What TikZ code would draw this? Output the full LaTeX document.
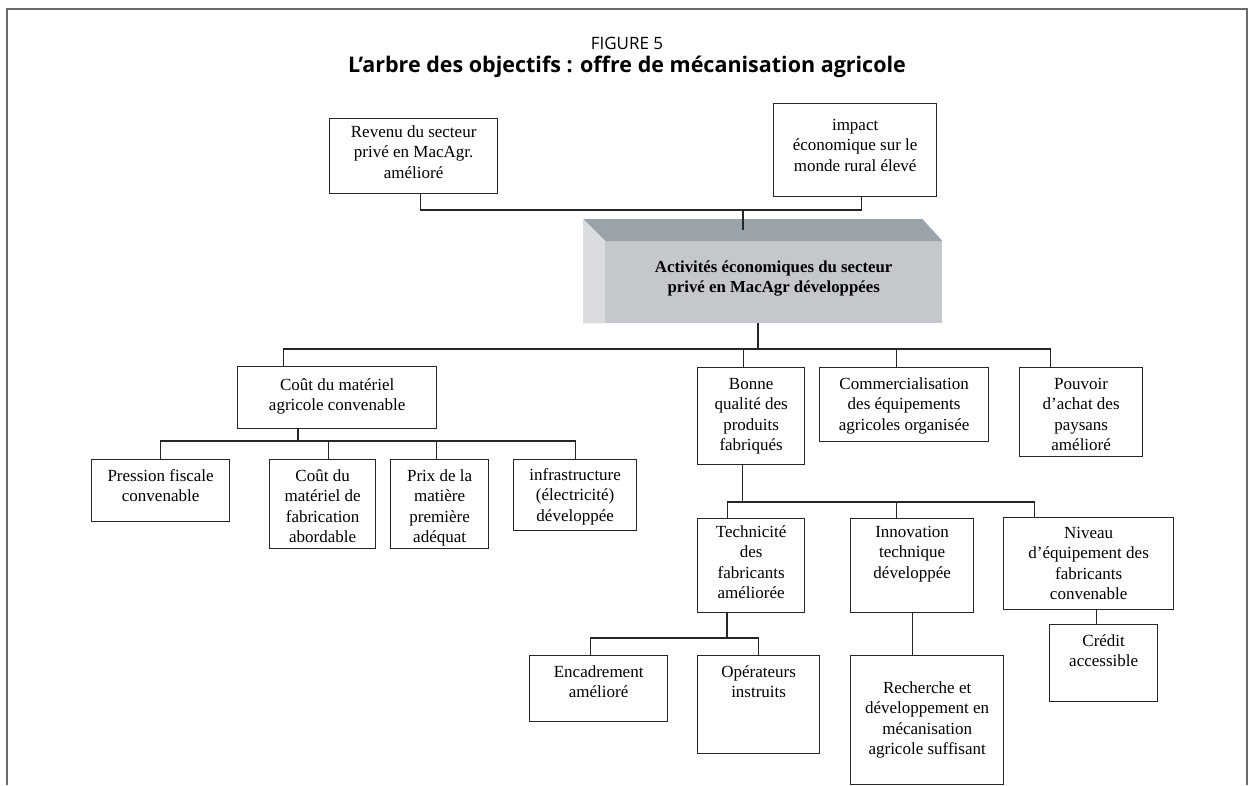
\documentclass[tikz,border=0pt]{standalone}
\usepackage{fontspec}
\setmainfont{Liberation Serif}
\newfontfamily\headfont{Open Sans}
\usetikzlibrary{calc}

\definecolor{framegray}{HTML}{6B6B6B}
\definecolor{inkline}{HTML}{262626}
\definecolor{topface}{HTML}{9BA3AA}
\definecolor{frontface}{HTML}{C4C8CD}
\definecolor{sideface}{HTML}{DADCE0}

% box text: width, height, first baseline from top, lines
\newcommand{\boxtxt}[4]{%
  \begin{minipage}[c][#2pt][t]{#1pt}\centering\rule{0pt}{#3pt}#4\end{minipage}}

\tikzset{
  objbox/.style={draw=inkline, line width=1.3pt, inner sep=0pt, anchor=north west,
    font=\fontsize{17}{20.2}\selectfont},
  link/.style={draw=inkline, line width=1.3pt},
}

\begin{document}
\begin{tikzpicture}[x=1pt, y=-1pt]
\path[use as bounding box] (0,0) rectangle (1255,785);

% frame, open at the bottom
\draw[framegray, line width=2pt] (7,785) -- (7,9) -- (1247,9) -- (1247,785);

% heading
\node[font=\headfont\fontsize{17}{20}\selectfont] (fig) at (627,43) {FIGURE 5};
\node[font=\headfont\bfseries\fontsize{21.5}{24}\selectfont] (ttl) at (627,67)
  {L’arbre des objectifs : offre de mécanisation agricole};

% top level
\node[objbox] (rev) at (329,118) {\boxtxt{168}{75}{19}{Revenu du secteur\\privé en MacAgr.\\amélioré}};
\node[objbox] (imp) at (773,103) {\boxtxt{163}{93}{27}{impact\\économique sur le\\monde rural élevé}};

% central bevelled box
\node[fill=frontface, inner sep=0pt, anchor=north west,
  font=\fontsize{16.8}{20}\selectfont] (cen) at (605,241)
  {\boxtxt{337}{82}{31}{\textbf{Activités économiques du secteur\\privé en MacAgr développées}}};
\fill[topface] (cen.north west) -- ++(-22,-22) -- ($(cen.north east)+(-20,-22)$)
  -- (cen.north east) -- cycle;
\fill[sideface] (cen.north west) -- ++(-22,-22) -- ($(cen.south west)+(-22,0)$)
  -- (cen.south west) -- cycle;

% second level
\node[objbox] (cout) at (237,366) {\boxtxt{199}{62}{24}{Coût du matériel\\agricole convenable}};
\node[objbox] (bon) at (697,367) {\boxtxt{107}{97}{22}{Bonne\\qualité des\\produits\\fabriqués}};
\node[objbox] (com) at (819,367) {\boxtxt{169}{74}{22}{Commercialisation\\des équipements\\agricoles organisée}};
\node[objbox] (pou) at (1019,367) {\boxtxt{123}{89}{22}{Pouvoir\\d’achat des\\paysans\\amélioré}};

% under the cost of equipment
\node[objbox] (pre) at (91,459) {\boxtxt{138}{62}{22}{Pression fiscale\\convenable}};
\node[objbox] (cmf) at (269,459) {\boxtxt{106}{89}{22}{Coût du\\matériel de\\fabrication\\abordable}};
\node[objbox] (pri) at (390,459) {\boxtxt{98}{89}{22}{Prix de la\\matière\\première\\adéquat}};
\node[objbox] (inf) at (513,459) {\boxtxt{123}{71}{21}{infrastructure\\(électricité)\\développée}};

% under product quality
\node[objbox] (tec) at (697,518) {\boxtxt{107}{94}{19}{Technicité\\des\\fabricants\\améliorée}};
\node[objbox] (inn) at (850,518) {\boxtxt{123}{94}{19}{Innovation\\technique\\développée}};
\node[objbox] (niv) at (1003,517) {\boxtxt{170}{92}{21}{Niveau\\d’équipement des\\fabricants\\convenable}};

% lowest level
\node[objbox] (enc) at (529,655) {\boxtxt{138}{66}{22}{Encadrement\\amélioré}};
\node[objbox] (ope) at (697,655) {\boxtxt{122}{98}{22}{Opérateurs\\instruits}};
\node[objbox] (rec) at (850,655) {\boxtxt{153}{129}{38}{Recherche et\\développement en\\mécanisation\\agricole suffisant}};
\node[objbox] (cre) at (1049,624) {\boxtxt{108}{77}{22}{Crédit\\accessible}};

% junctions
\coordinate (J1) at (743,210);
\coordinate (J1end) at (743,230);
\coordinate (J2) at (758,349);
\coordinate (J3) at (298,441);
\coordinate (J4) at (742.5,502);
\coordinate (J5) at (727,638);

% connectors
\draw[link] ([xshift=7pt]rev.south) |- (J1) -| ([xshift=6pt]imp.south);
\draw[link] (J1) -- (J1end);

\draw[link] (J2 |- cen.south) -- (J2);
\draw[link] ([xshift=-53.5pt]cout.north) |- (J2) -| ([xshift=-30.5pt]pou.north);
\draw[link] ([xshift=-8pt]bon.north) |- (J2);
\draw[link] ([xshift=-7.5pt]com.north) |- (J2);

\draw[link] (J3 |- cout.south) -- (J3);
\draw[link] (pre.north) |- (J3) -| (inf.north);
\draw[link] ([xshift=6pt]cmf.north) |- (J3);
\draw[link] ([xshift=-3pt]pri.north) |- (J3);

\draw[link] (J4 |- bon.south) -- (J4);
\draw[link] ([xshift=-23.5pt]tec.north) |- (J4) -| ([xshift=-54pt]niv.north);
\draw[link] ([xshift=-15.5pt]inn.north) |- (J4);

\draw[link] (J5 |- tec.south) -- (J5);
\draw[link] ([xshift=-8pt]enc.north) |- (J5) -| (ope.north);

\draw[link] (inn.south) -- (inn.south |- rec.north);
\draw[link] ([xshift=8pt]niv.south) -- ([xshift=8pt]niv.south |- cre.north);
\end{tikzpicture}
\end{document}
